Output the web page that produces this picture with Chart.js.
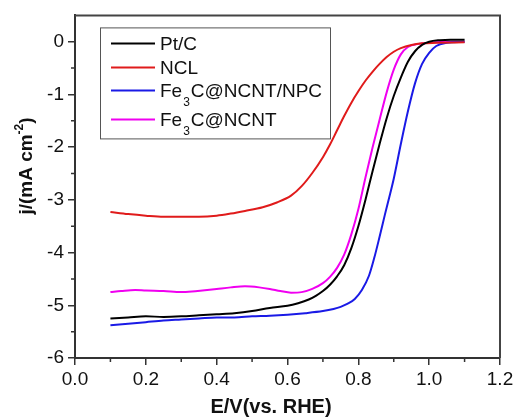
<!DOCTYPE html>
<html>
<head>
<meta charset="utf-8">
<script src="https://cdn.jsdelivr.net/npm/chart.js@4.4.1/dist/chart.umd.min.js"></script>
<style>
  html, body { margin: 0; padding: 0; background: #fff; }
  #wrap { width: 517px; height: 417px; }
</style>
</head>
<body>
<div id="wrap"><canvas id="myChart" width="517" height="417"></canvas></div>
<script>
// series names and colours
var names = ['Pt/C', 'NCL', 'Fe₃C@NCNT/NPC', 'Fe₃C@NCNT'];
var colors = ['#000000', '#e01b1b', '#1a1ae6', '#f000f0'];

// Pt/C
var ptcE = [0.10, 0.15, 0.20, 0.25, 0.30, 0.35, 0.40, 0.45, 0.50, 0.55, 0.60, 0.63, 0.66, 0.68, 0.70, 0.72, 0.74, 0.76, 0.78, 0.80, 0.82, 0.84, 0.86, 0.88, 0.90, 0.92, 0.94, 0.96, 0.98, 1.00, 1.03, 1.06, 1.10];
var ptcJ = [-5.25, -5.23, -5.21, -5.22, -5.21, -5.19, -5.17, -5.15, -5.11, -5.05, -5.01, -4.96, -4.89, -4.82, -4.73, -4.61, -4.45, -4.24, -3.92, -3.50, -3.00, -2.46, -1.94, -1.45, -1.03, -0.68, -0.38, -0.18, -0.06, 0.00, 0.03, 0.04, 0.04];

// NCL
var nclE = [0.10, 0.15, 0.20, 0.25, 0.30, 0.35, 0.40, 0.44, 0.48, 0.53, 0.57, 0.61, 0.64, 0.67, 0.70, 0.72, 0.74, 0.76, 0.78, 0.80, 0.82, 0.84, 0.86, 0.88, 0.90, 0.92, 0.95, 0.98, 1.02, 1.10];
var nclJ = [-3.23, -3.27, -3.30, -3.32, -3.32, -3.32, -3.30, -3.26, -3.21, -3.14, -3.05, -2.92, -2.74, -2.49, -2.19, -1.95, -1.68, -1.41, -1.16, -0.94, -0.74, -0.57, -0.42, -0.29, -0.19, -0.12, -0.06, -0.03, -0.02, -0.01];

// Fe3C@NCNT/NPC
var npcE = [0.10, 0.15, 0.20, 0.25, 0.30, 0.35, 0.40, 0.45, 0.50, 0.55, 0.60, 0.65, 0.70, 0.73, 0.75, 0.77, 0.79, 0.81, 0.83, 0.845, 0.86, 0.875, 0.89, 0.90, 0.92, 0.94, 0.96, 0.98, 1.00, 1.02, 1.05, 1.10];
var npcJ = [-5.38, -5.35, -5.32, -5.29, -5.27, -5.25, -5.23, -5.23, -5.21, -5.20, -5.18, -5.15, -5.11, -5.07, -5.03, -4.97, -4.88, -4.71, -4.44, -4.10, -3.70, -3.28, -2.88, -2.60, -1.94, -1.32, -0.79, -0.42, -0.21, -0.08, -0.02, 0.00];

// Fe3C@NCNT
var ncntE = [0.10, 0.13, 0.17, 0.20, 0.25, 0.30, 0.33, 0.36, 0.40, 0.44, 0.48, 0.52, 0.55, 0.58, 0.61, 0.64, 0.67, 0.70, 0.72, 0.74, 0.76, 0.78, 0.80, 0.82, 0.84, 0.86, 0.88, 0.90, 0.92, 0.94, 0.97, 1.00, 1.05, 1.10];
var ncntJ = [-4.75, -4.73, -4.71, -4.72, -4.73, -4.75, -4.74, -4.72, -4.69, -4.66, -4.64, -4.66, -4.69, -4.73, -4.76, -4.75, -4.69, -4.58, -4.46, -4.29, -4.04, -3.66, -3.18, -2.58, -2.01, -1.48, -0.96, -0.53, -0.24, -0.10, -0.04, -0.02, 0.00, 0.00];

// axis ticks
var xTicks = [0.0, 0.2, 0.4, 0.6, 0.8, 1.0, 1.2];
var yTicks = [-6, -5, -4, -3, -2, -1, 0];

var FONT = '"Liberation Sans", Arial, sans-serif';

function pts(xs, ys) {
	return xs.map(function(x, i){ return {x: x, y: ys[i]}; });
}

var allE = [ptcE, nclE, npcE, ncntE];
var allJ = [ptcJ, nclJ, npcJ, ncntJ];

var datasets = names.map(function(n, i){
	return {
		label: n,
		data: pts(allE[i], allJ[i]),
		borderColor: colors[i],
		borderWidth: 2,
		pointRadius: 0,
		fill: false,
		cubicInterpolationMode: 'monotone'
	};
});

// minor ticks, frame, legend, axis titles
var extras = {
	id: 'extras',
	afterDraw: function(chart){
		var c = chart.ctx;
		var a = chart.chartArea;
		var xs = chart.scales.x, ys = chart.scales.y;
		c.save();
		// frame top / right
		c.strokeStyle = '#444';
		c.lineWidth = 2;
		c.beginPath();
		c.moveTo(a.left, a.top);
		c.lineTo(a.right, a.top);
		c.lineTo(a.right, a.bottom);
		c.stroke();
		// minor ticks
		c.strokeStyle = '#333';
		c.lineWidth = 1.5;
		c.beginPath();
		for (var i = 0; i < xTicks.length - 1; i++) {
			var px = xs.getPixelForValue((xTicks[i] + xTicks[i+1]) / 2);
			c.moveTo(px, a.bottom);
			c.lineTo(px, a.bottom + 4);
		}
		for (var j = 0; j < yTicks.length - 1; j++) {
			var py = ys.getPixelForValue((yTicks[j] + yTicks[j+1]) / 2);
			c.moveTo(a.left, py);
			c.lineTo(a.left - 4, py);
		}
		c.stroke();

		// legend
		var bx = a.left + 25, by = a.top + 12;
		c.strokeStyle = '#555';
		c.lineWidth = 1;
		c.strokeRect(bx + 0.5, by + 0.5, 230, 111);
		var rowY = [16, 40, 63, 92];
		c.textBaseline = 'alphabetic';
		c.textAlign = 'left';
		for (var k = 0; k < names.length; k++) {
			var ly = by + rowY[k];
			c.strokeStyle = colors[k];
			c.lineWidth = 2;
			c.beginPath();
			c.moveTo(bx + 11, ly);
			c.lineTo(bx + 55, ly);
			c.stroke();
			c.fillStyle = '#111';
			var tx = bx + 60, base = ly + 7;
			var parts = names[k].split('₃');
			c.font = '19px ' + FONT;
			c.fillText(parts[0], tx, base);
			tx += c.measureText(parts[0]).width;
			if (parts.length > 1) {
				c.font = '12px ' + FONT;
				c.fillText('3', tx + 1, base + 9);
				tx += c.measureText('3').width + 2;
				c.font = '19px ' + FONT;
				c.fillText(parts[1], tx, base);
			}
		}

		// x title
		c.fillStyle = '#111';
		c.font = 'bold 20px ' + FONT;
		c.textAlign = 'center';
		c.fillText('E/V(vs. RHE)', 271, 413);

		// y title with superscript
		c.translate(32, 166);
		c.rotate(-Math.PI / 2);
		var t1 = 'j/(mA cm', sup = '-2', t2 = ')';
		c.font = 'bold 19px ' + FONT;
		var w1 = c.measureText(t1).width, w3 = c.measureText(t2).width;
		c.font = 'bold 12px ' + FONT;
		var w2 = c.measureText(sup).width;
		var start = -(w1 + w2 + w3) / 2;
		c.textAlign = 'left';
		c.font = 'bold 19px ' + FONT;
		c.fillText(t1, start, 0);
		c.font = 'bold 12px ' + FONT;
		c.fillText(sup, start + w1, -9);
		c.font = 'bold 19px ' + FONT;
		c.fillText(t2, start + w1 + w2, 0);
		c.restore();
	}
};

function setChart(){
	const ctx = document.getElementById('myChart');
	new Chart(ctx, {
		type: 'line',
		data: { datasets: datasets },
		plugins: [extras],
		options: {
			responsive: false,
			animation: false,
			devicePixelRatio: 1,
			layout: { padding: { top: 15, right: 17, left: 0, bottom: 0 } },
			plugins: {
				legend: { display: false },
				tooltip: { enabled: false }
			},
			scales: {
				x: {
					type: 'linear',
					min: 0,
					max: 1.2,
					afterFit: function(s){ s.height = 59; },
					afterBuildTicks: function(s){ s.ticks = xTicks.map(function(v){ return {value: v}; }); },
					border: { display: true, color: '#333', width: 2 },
					grid: { drawOnChartArea: false, drawTicks: true, tickLength: 7, color: '#333', lineWidth: 1.5 },
					ticks: {
						color: '#111',
						padding: 3,
						maxRotation: 0,
						font: { family: FONT, size: 19 },
						callback: function(v){ return Number(v).toFixed(1); }
					}
				},
				y: {
					min: -6,
					max: 0.5,
					afterFit: function(s){ s.width = 75; },
					afterBuildTicks: function(s){ s.ticks = yTicks.map(function(v){ return {value: v}; }); },
					border: { display: true, color: '#333', width: 2 },
					grid: { drawOnChartArea: false, drawTicks: true, tickLength: 7, color: '#333', lineWidth: 1.5 },
					ticks: {
						color: '#111',
						padding: 4,
						font: { family: FONT, size: 19 },
						callback: function(v){ return String(v); }
					}
				}
			}
		}
	});
}
setChart();
</script>
</body>
</html>
